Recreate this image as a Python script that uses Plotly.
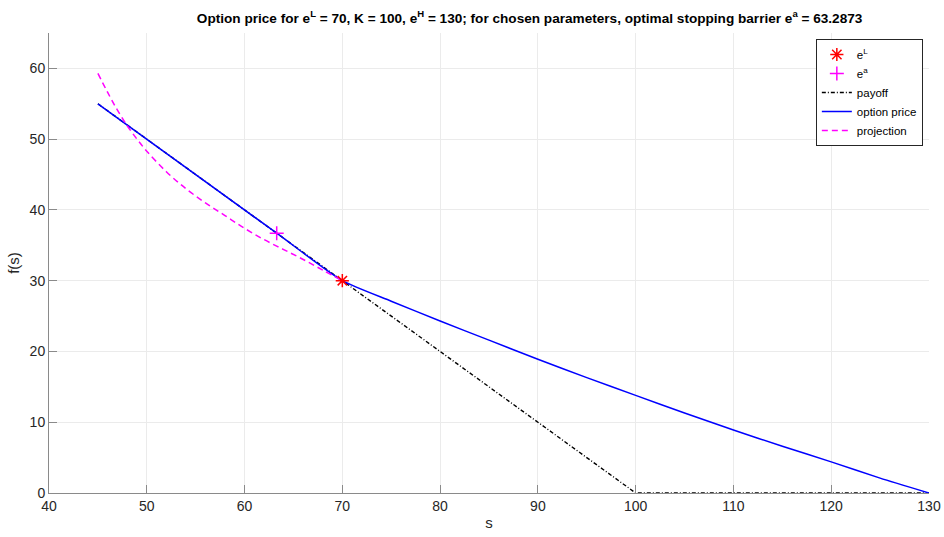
import plotly.graph_objects as go

# Parameters of the barrier option
e_L = 70
K = 100
e_H = 130
e_a = 63.2873

# Payoff (K - s)^+ on the plotted grid
payoff_s = [45, 70, 100, 130]
payoff_f = [55, 30, 0, 0]

# Option price: stops at the payoff below e_L, continuation value above
price_s = [45, 63.2873, 70, 75, 80, 85, 90, 95, 100, 105, 110, 115, 120, 125, 130]
price_f = [55, 36.7127, 30, 27.1, 24.3, 21.6, 18.9, 16.3, 13.8, 11.3, 8.9, 6.6, 4.4, 2.1, 0]

# Projection of the continuation value below e_L
proj_s = [45, 46, 47, 48, 49, 50, 52, 54, 56, 58, 60, 62, 64, 66, 68, 70]
proj_f = [59.3, 56.6, 54.1, 51.9, 50.0, 48.3, 45.4, 43.0, 41.0, 39.2, 37.4, 35.8, 34.4, 33.0, 31.5, 30.0]

x_ticks = [40, 50, 60, 70, 80, 90, 100, 110, 120, 130]
y_ticks = [0, 10, 20, 30, 40, 50, 60]

FONT = "Liberation Sans, Arial, sans-serif"
AXIS_GRAY = "#8a8a8a"
TEXT = "#262626"

fig = go.Figure()

fig.add_trace(go.Scatter(
    x=payoff_s, y=payoff_f, mode="lines", name="payoff", legendrank=3,
    line=dict(color="black", width=1.4, dash="4px,2px,1px,2px"),
    cliponaxis=False,
))
fig.add_trace(go.Scatter(
    x=price_s, y=price_f, mode="lines", name="option price", legendrank=4,
    line=dict(color="#0000ff", width=1.5, shape="spline", smoothing=0.6),
    cliponaxis=False,
))
fig.add_trace(go.Scatter(
    x=proj_s, y=proj_f, mode="lines", name="projection", legendrank=5,
    line=dict(color="#ff00ff", width=1.5, dash="6px,4px", shape="spline"),
))
fig.add_trace(go.Scatter(
    x=[e_L], y=[K - e_L], mode="markers", name="e<sup>L</sup>", legendrank=1,
    marker=dict(symbol="asterisk-open", size=11, color="red",
                line=dict(color="red", width=1.5)),
    cliponaxis=False,
))
fig.add_trace(go.Scatter(
    x=[e_a], y=[K - e_a], mode="markers", name="e<sup>a</sup>", legendrank=2,
    marker=dict(symbol="cross-thin-open", size=10, color="magenta",
                line=dict(color="magenta", width=1.5)),
))

title = ("<b>Option price for e<sup>L</sup> = 70, K = 100, e<sup>H</sup> = 130; "
         "for chosen parameters, optimal stopping barrier e<sup>a</sup> = 63.2873</b>")

fig.update_layout(
    width=944, height=537,
    margin=dict(l=49, r=15, t=33, b=44),
    paper_bgcolor="white", plot_bgcolor="white",
    font=dict(family=FONT, size=14, color=TEXT),
    title=dict(text=title, x=0.561, xanchor="center", y=0.975, yanchor="top",
               font=dict(family=FONT, size=13.6, color="black")),
    showlegend=True,
    legend=dict(
        x=0.993, y=0.987, xanchor="right", yanchor="top",
        bgcolor="white", bordercolor=TEXT, borderwidth=1,
        font=dict(family=FONT, size=11.5, color="black"),
        tracegroupgap=0, itemwidth=30, traceorder="normal",
    ),
    xaxis=dict(
        range=[40, 130], tickvals=x_ticks, ticktext=[str(v) for v in x_ticks],
        showgrid=True, gridcolor="#ebebeb", gridwidth=1, automargin=False,
        zeroline=False, showline=True, linecolor=AXIS_GRAY, linewidth=1,
        ticks="inside", ticklen=8, tickcolor=AXIS_GRAY,
        tickfont=dict(family=FONT, size=14, color=TEXT),
        title=dict(text="s", font=dict(family=FONT, size=15, color=TEXT), standoff=4),
    ),
    yaxis=dict(
        range=[0, 65], tickvals=y_ticks, ticktext=[str(v) for v in y_ticks],
        showgrid=True, gridcolor="#ebebeb", gridwidth=1, automargin=False,
        zeroline=False, showline=True, linecolor=AXIS_GRAY, linewidth=1,
        ticks="inside", ticklen=8, tickcolor=AXIS_GRAY,
        tickfont=dict(family=FONT, size=14, color=TEXT),
        title=dict(text="f(s)", font=dict(family=FONT, size=15, color=TEXT), standoff=6),
    ),
)

fig.write_html("out.html")
